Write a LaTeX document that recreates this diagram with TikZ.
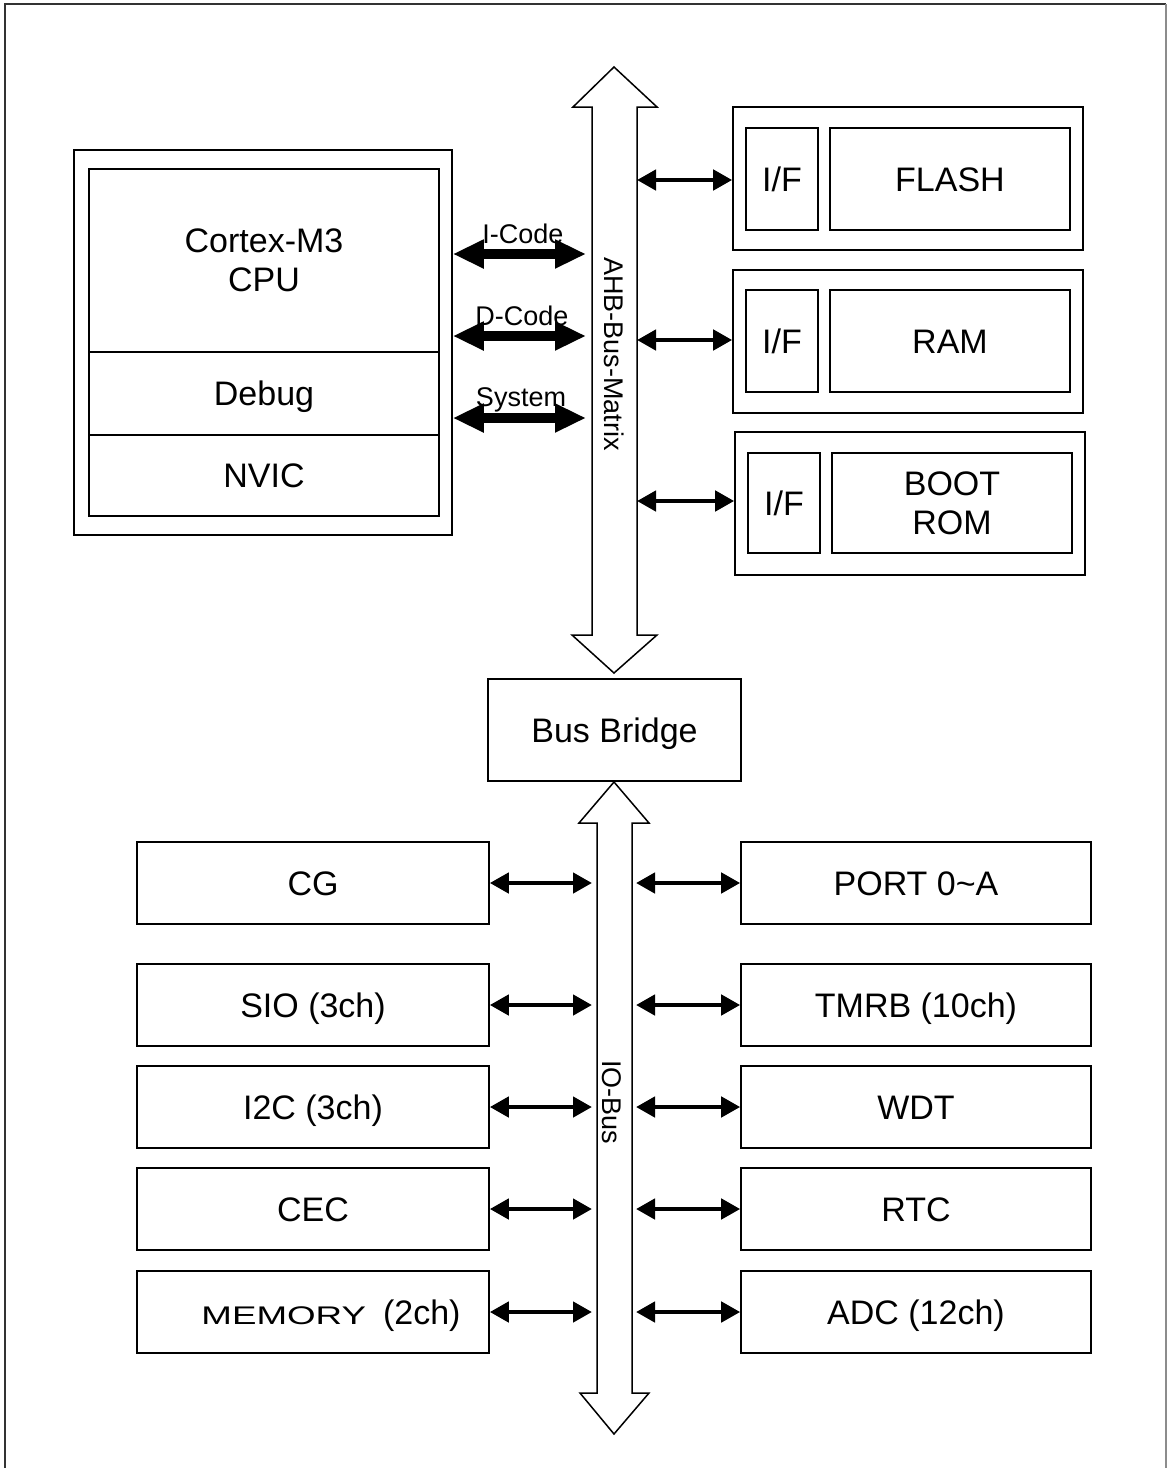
\documentclass[tikz,border=0pt]{standalone}
\usepackage{fontspec}
\setmainfont{Liberation Sans}
\usetikzlibrary{arrows.meta}
\begin{document}
\begin{tikzpicture}[x=1pt,y=-1pt,
  box/.style={draw, line width=1.6pt, rectangle, inner sep=0pt, align=center,
    font=\fontsize{34}{39}\selectfont},
  sl/.style={text height=24pt, text depth=0pt},
  txt/.style={inner sep=0pt, align=center, font=\fontsize{34}{39}\selectfont},
  lbl/.style={inner sep=0pt, font=\fontsize{27}{31}\selectfont},
  slimarr/.style={line width=4.5pt,
    {Triangle[length=19pt,width=20pt]}-{Triangle[length=19pt,width=20pt]}},
  fatarr/.style={line width=10pt,
    {Triangle[length=31pt,width=27pt]}-{Triangle[length=31pt,width=27pt]}},
  busarrow/.style={draw, line width=1.5pt, fill=white, line join=miter}
]
\useasboundingbox (0,0) rectangle (1167,1468);
% frame
\draw[line width=2.5pt, black!80] (5,1468) -- (5,4) -- (1166,4);
\draw[line width=2pt, black!45] (1166,4) -- (1166,1468);

% AHB bus matrix arrow
\draw[busarrow] (614,67) -- (657,107) -- (637,107) -- (637,635) -- (657,635)
  -- (614,673) -- (572,635) -- (592,635) -- (592,107) -- (573,107) -- cycle;
\node[lbl, rotate=-90] (ahblbl) at (614,354) {AHB-Bus-Matrix};

% IO bus arrow
\draw[busarrow] (614,782) -- (649,823) -- (632,823) -- (632,1393) -- (649,1393)
  -- (614,1434) -- (580,1393) -- (597,1393) -- (597,823) -- (579,823) -- cycle;
\node[lbl, rotate=-90] (iolbl) at (612,1102) {IO-Bus};

% CPU block
\node[box, minimum width=378, minimum height=385] (cpuouter) at (263,342.5) {};
\node[box, minimum width=350, minimum height=183] (cpucore) at (264,260.5) {};
\node[txt] (cputxt) at (264,260) {Cortex-M3\\CPU};
\node[box, sl, text depth=-8pt, minimum width=350, minimum height=83] (debug) at (264,393.5) {Debug};
\node[box, sl, text depth=-5pt, minimum width=350, minimum height=81] (nvic) at (264,475.5) {NVIC};

% memories
\node[box, minimum width=350, minimum height=143] (flashg) at (908,178.5) {};
\node[box, sl, minimum width=72, minimum height=102] (flashif) at (782,179) {I/F};
\node[box, sl, minimum width=240, minimum height=102] (flash) at (950,179) {FLASH};

\node[box, minimum width=350, minimum height=143] (ramg) at (908,341.5) {};
\node[box, sl, minimum width=72, minimum height=102] (ramif) at (782,341) {I/F};
\node[box, sl, minimum width=240, minimum height=102] (ram) at (950,341) {RAM};

\node[box, minimum width=350, minimum height=143] (bootg) at (910,503.5) {};
\node[box, sl, minimum width=72, minimum height=100] (bootif) at (784,503) {I/F};
\node[box, minimum width=240, minimum height=100] (boot) at (952,503) {BOOT\\ROM};

% bus bridge
\node[box, sl, minimum width=253, minimum height=102] (bridge) at (614.5,730) {Bus Bridge};

% peripherals left
\node[box, sl, minimum width=352, minimum height=82] (cg) at (313,883) {CG};
\node[box, sl, minimum width=352, minimum height=82] (sio) at (313,1005) {SIO (3ch)};
\node[box, sl, minimum width=352, minimum height=82] (iic) at (313,1107) {I2C (3ch)};
\node[box, sl, minimum width=352, minimum height=82] (cec) at (313,1209) {CEC};
\node[box, minimum width=352, minimum height=82] (memory) at (313,1312) {};
\node[txt, sl] (memtxt) at (331,1312) {\scalebox{1.44}[1]{\fontsize{25.5}{30}\selectfont MEMORY}\hspace{17pt}(2ch)};

% peripherals right
\node[box, sl, minimum width=350, minimum height=82] (port) at (916,883) {PORT 0\textasciitilde A};
\node[box, sl, minimum width=350, minimum height=82] (tmrb) at (916,1005) {TMRB (10ch)};
\node[box, sl, minimum width=350, minimum height=82] (wdt) at (916,1107) {WDT};
\node[box, sl, minimum width=350, minimum height=82] (rtc) at (916,1209) {RTC};
\node[box, sl, minimum width=350, minimum height=82] (adc) at (916,1312) {ADC (12ch)};

% CPU to AHB
\coordinate (ahbI) at (586,254);
\coordinate (ahbD) at (586,336);
\coordinate (ahbS) at (586,418);
\draw[fatarr] (cpuouter.east |- ahbI) -- (ahbI);
\draw[fatarr] (cpuouter.east |- ahbD) -- (ahbD);
\draw[fatarr] (cpuouter.east |- ahbS) -- (ahbS);
\node[lbl, anchor=base] (icode) at (523,243) {I-Code};
\node[lbl, anchor=base] (dcode) at (522,325) {D-Code};
\node[lbl, anchor=base] (system) at (521,406) {System};

% AHB to memories
\coordinate (ahbF) at (637,180);
\coordinate (ahbR) at (637,340);
\coordinate (ahbB) at (637,501);
\draw[slimarr] (ahbF) -- (ahbF -| flashg.west);
\draw[slimarr] (ahbR) -- (ahbR -| ramg.west);
\draw[slimarr] (ahbB) -- (ahbB -| bootg.west);

% IO bus connections
\foreach \n/\y in {cg/883, sio/1005, iic/1107, cec/1209, memory/1312}{
  \coordinate (ioL-\n) at (592,\y);
  \draw[slimarr] (\n.east |- ioL-\n) -- (ioL-\n);
}
\foreach \n/\y in {port/883, tmrb/1005, wdt/1107, rtc/1209, adc/1312}{
  \coordinate (ioR-\n) at (636,\y);
  \draw[slimarr] (ioR-\n) -- (\n.west |- ioR-\n);
}
\end{tikzpicture}
\end{document}
